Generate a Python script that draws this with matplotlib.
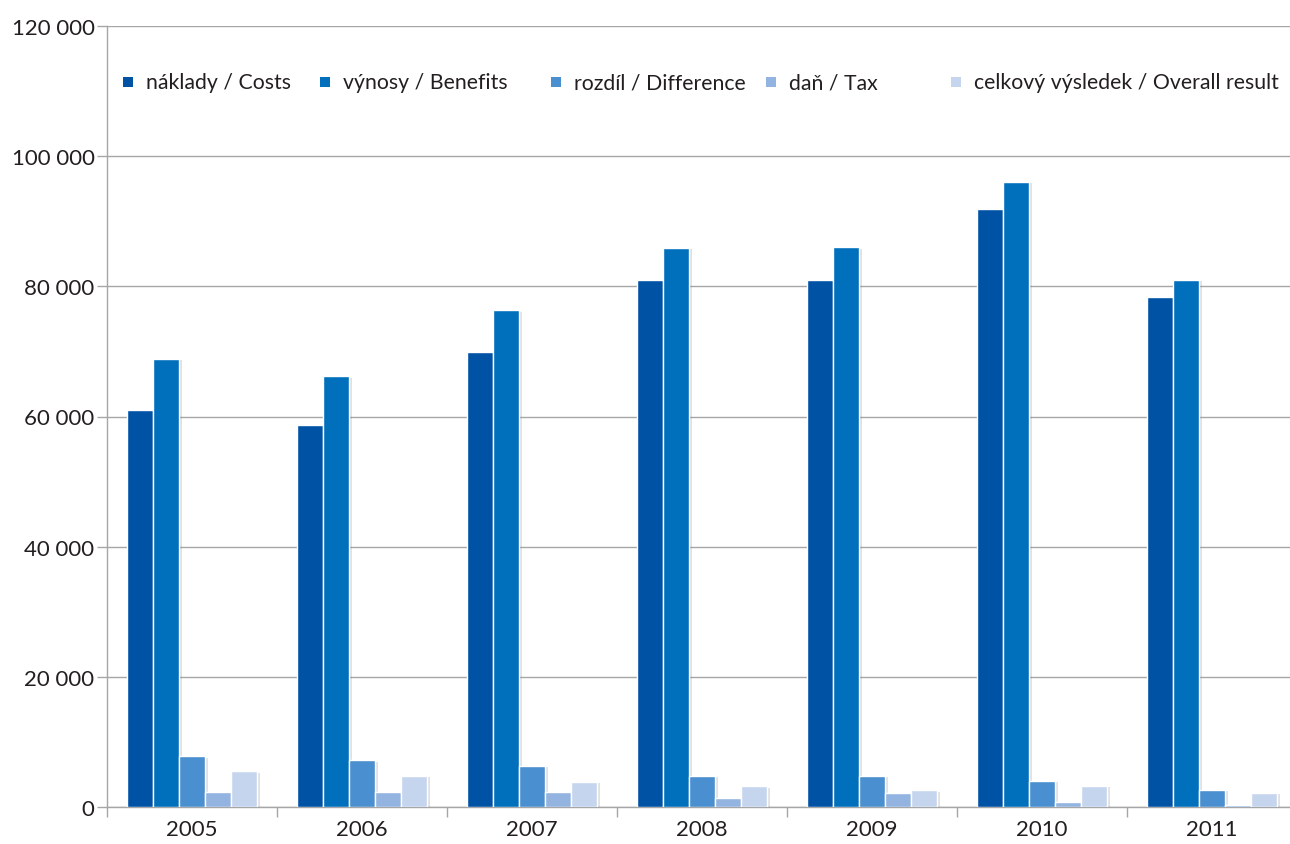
import matplotlib
matplotlib.use("Agg")
import matplotlib.pyplot as plt
import matplotlib.patheffects as pe
from matplotlib.patches import Rectangle
import numpy as np

years = ["2005", "2006", "2007", "2008", "2009", "2010", "2011"]
costs = [61000, 58700, 69900, 80900, 81000, 91900, 78300]
benefits = [68900, 66200, 76300, 85900, 86000, 96100, 81000]
difference = [7800, 7200, 6350, 4800, 4800, 4050, 2650]
tax = [2260, 2260, 2260, 1430, 2100, 720, 350]
overall = [5500, 4800, 3900, 3200, 2560, 3250, 2200]

series_labels = ["náklady / Costs", "výnosy / Benefits", "rozdíl / Difference",
                 "daň / Tax", "celkový výsledek / Overall result"]
colors = ["#0052A5", "#0070BD", "#4A8FCF", "#93B4E0", "#C6D5EE"]
yticks = [0, 20000, 40000, 60000, 80000, 100000, 120000]

plt.rcParams['font.family'] = ['Lato', 'DejaVu Sans']
text_color = "#231F20"
grid_color = "#A6A6A6"
fs = 16

W, H = 1290, 845
fig = plt.figure(figsize=(W / 100, H / 100), dpi=100)
ax = fig.add_axes([107 / W, (H - 808) / H, (1297 - 107) / W, (808 - 27) / H])

series = [costs, benefits, difference, tax, overall]
x = np.arange(len(years))
bw = 0.153
for i, (vals, col) in enumerate(zip(series, colors)):
    offs = (i - 2) * bw
    ax.bar(x + offs, vals, width=bw, color=col, edgecolor="white", linewidth=1.0,
           zorder=3,
           path_effects=[pe.SimplePatchShadow(offset=(2, -1), shadow_rgbFace="#888888", alpha=0.25),
                         pe.Normal()])

ax.set_xlim(-0.5, len(years) - 0.5)
ax.set_ylim(0, 120000)
ax.set_yticks(yticks)
ax.set_yticklabels([f"{v:,}".replace(",", " ") for v in yticks], fontsize=fs, color=text_color)
ax.yaxis.grid(True, color=grid_color, linewidth=1.0, zorder=0)
ax.set_axisbelow(True)

ax.set_xticks(x)
ax.set_xticklabels(years, fontsize=fs, color=text_color)
ax.tick_params(axis="x", length=0, pad=9)
ax.set_xticks(np.arange(-0.5, len(years), 1.0), minor=True)
ax.tick_params(axis="x", which="minor", length=7, color=grid_color, width=1.0)
ax.tick_params(axis="y", length=7, color=grid_color, width=1.0, pad=2)

for s in ["top", "right"]:
    ax.spines[s].set_visible(False)
for s in ["left", "bottom"]:
    ax.spines[s].set_color(grid_color)
    ax.spines[s].set_linewidth(1.0)

# legend (manual placement)
leg_x = [123, 320, 551, 766, 951]
leg_y = 83
for lx, lab, col in zip(leg_x, series_labels, colors):
    fig.patches.append(Rectangle(((lx) / W, (H - leg_y - 5) / H), 10 / W, 10 / H,
                                 transform=fig.transFigure, facecolor=col,
                                 edgecolor="none", figure=fig))
    fig.text((lx + 23) / W, (H - leg_y) / H, lab, fontsize=15.3, color=text_color,
             va="center", ha="left")

fig.savefig("out.png", dpi=100, facecolor="white")
